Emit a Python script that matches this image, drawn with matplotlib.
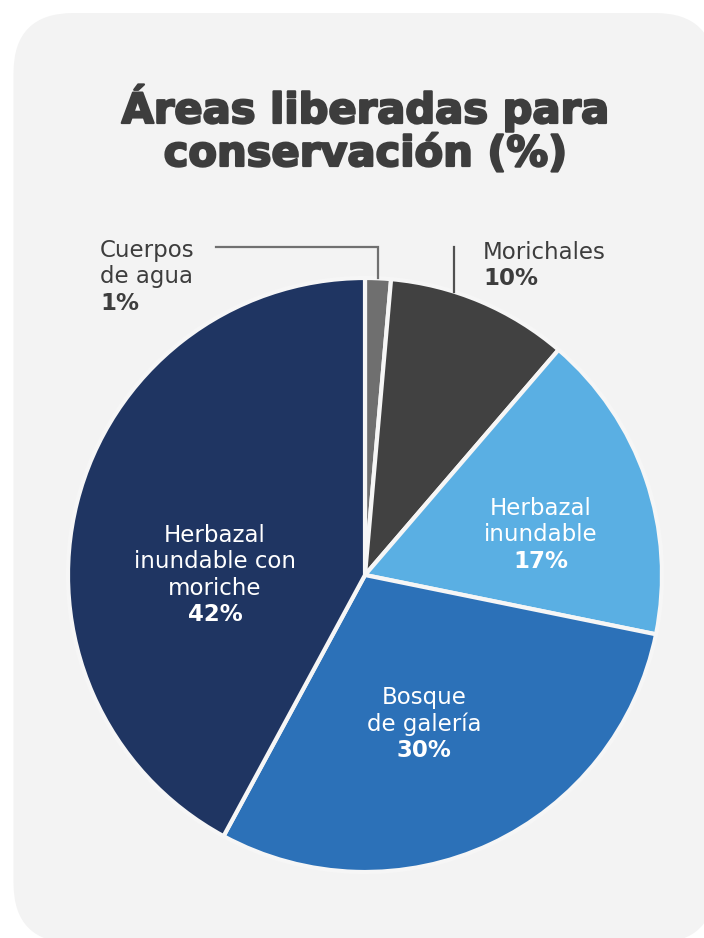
import matplotlib
matplotlib.use("Agg")
import matplotlib.pyplot as plt
from matplotlib.patches import FancyBboxPatch
import matplotlib.patheffects as pe
import numpy as np

# ---- data ----
categories = ["Cuerpos de agua", "Morichales", "Herbazal inundable",
              "Bosque de galería", "Herbazal inundable con moriche"]
values = [1.4, 9.9, 16.9, 29.7, 42.1]          # slice sizes as drawn
pct_labels = ["1%", "10%", "17%", "30%", "42%"]  # printed values
label_names = ["Cuerpos\nde agua", "Morichales", "Herbazal\ninundable",
               "Bosque\nde galería", "Herbazal\ninundable con\nmoriche"]
colors = ["#6f6f6f", "#414141", "#5aafe3", "#2c71b8", "#1f3562"]
title_lines = ["Áreas liberadas para", "conservación (%)"]

W, H = 704, 938
fig = plt.figure(figsize=(W / 100, H / 100), dpi=100)
fig.patch.set_facecolor("white")

# background panel axes in pixel coords
bg = fig.add_axes([0, 0, 1, 1])
bg.set_xlim(0, W)
bg.set_ylim(H, 0)
bg.axis("off")
panel = FancyBboxPatch((13.5 + 60, 13 + 60), 715 - 13.5 - 120, 943 - 13 - 120,
                       boxstyle="round,pad=60", facecolor="#f3f3f3",
                       edgecolor="none")
bg.add_patch(panel)

title_font = dict(family=["DejaVu Sans"], weight="bold",
                  color="#3d3d3d", fontsize=30, ha="center", va="baseline",
                  path_effects=[pe.withStroke(linewidth=1.6, foreground="#3d3d3d")])
bg.text(365, 123, title_lines[0], **title_font)
bg.text(365, 166, title_lines[1], **title_font)

# pie axes
cx, cy, R = 365, 575, 297
ax = fig.add_axes([(cx - R) / W, (H - cy - R) / H, 2 * R / W, 2 * R / H])
ax.pie(values, colors=colors, startangle=90, counterclock=False, radius=1,
       wedgeprops=dict(edgecolor="#f6f6f6", linewidth=3))
ax.set_xlim(-1, 1)
ax.set_ylim(-1, 1)
ax.set_aspect("auto")
ax.axis("off")

reg = dict(family=["DejaVu Sans"], fontsize=16.5)
bold = dict(family=["DejaVu Sans"], fontsize=16.5, weight="bold")

# angles of slices
cum = np.cumsum([0] + values)
mid_angles = [90 - 3.6 * (cum[i] + cum[i + 1]) / 2 for i in range(len(values))]

# inside labels: (x, y) in pie coords of block centre
inside = {2: (0.593, 0.135), 3: (0.199, -0.502), 4: (-0.505, 0.0)}
lh = 26.5 / R  # line height in pie coords
for i, (x, y) in inside.items():
    lines = label_names[i].split("\n")
    n = len(lines) + 1
    top = y + (n - 1) * lh / 2
    for k, ln in enumerate(lines):
        ax.text(x, top - k * lh, ln, ha="center", va="center", color="white", **reg)
    ax.text(x, top - len(lines) * lh, pct_labels[i], ha="center", va="center",
            color="white", **bold)

# outside labels
def outside(i, x, top):
    lines = label_names[i].split("\n")
    for k, ln in enumerate(lines):
        ax.text(x, top - k * lh, ln, ha="left", va="center", color="#3d3d3d", **reg)
    ax.text(x, top - len(lines) * lh, pct_labels[i], ha="left", va="center",
            color="#3d3d3d", **bold)

outside(0, -0.892, (575 - 250) / R)
outside(1, 0.397, (575 - 252) / R)

# leader lines
ly = (575 - 247) / R
a0 = np.radians(mid_angles[0])
x0 = np.cos(a0) * 1.0
ax.plot([(216 - cx) / R, x0, x0], [ly, ly, np.sin(a0) * 1.0],
        color="#707070", lw=1.6, clip_on=False, solid_joinstyle="miter")
xm = (454 - cx) / R
ax.plot([xm, xm], [ly, np.sqrt(1 - xm ** 2)], color="#505050", lw=1.6,
        clip_on=False)

fig.savefig("out.png", dpi=100, facecolor="white")
